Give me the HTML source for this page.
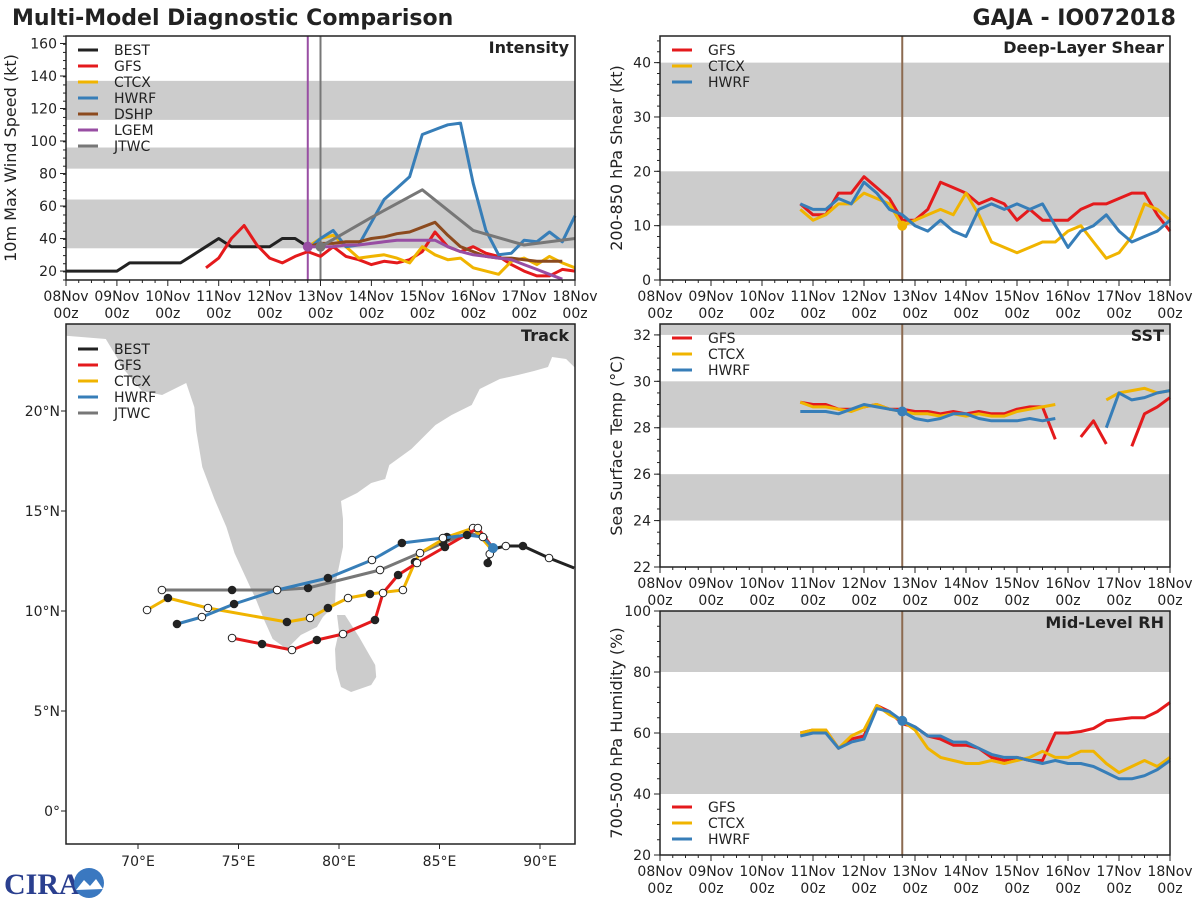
<!DOCTYPE html>
<html><head><meta charset="utf-8"><style>
body{margin:0;background:#fff;}
svg{display:block;font-family:"DejaVu Sans","Liberation Sans",sans-serif;}
</style></head><body>
<svg id="c" width="1200" height="900" xmlns="http://www.w3.org/2000/svg">
<text x="12" y="25" font-size="22" font-weight="bold" fill="#222">Multi-Model Diagnostic Comparison</text>
<text x="1176" y="25" font-size="22" font-weight="bold" fill="#222" text-anchor="end">GAJA - IO072018</text>
<g>
<text x="4" y="894" font-size="30" font-weight="bold" fill="#2a3f8f" font-family="Liberation Serif,serif">CIRA</text>
<circle cx="89" cy="883" r="15" fill="#3a78c0"/>
<path d="M76 890 L84 880 L90 886 L96 879 L103 889 Z" fill="#fff"/>
</g>
</svg>
<script>
// Intensity data (hours since 08Nov 00z)
const bestH=[0,6,12,18,24,30,36,42,48,54,60,66,72,78,84,90,96,102,108,114];
const bestV=[20,20,20,20,20,25,25,25,25,25,30,35,40,35,35,35,35,40,40,35];
const fH=[66,72,78,84,90,96,102,108,114,120,126,132,138,144,150,156,162,168,174,180,186,192,198,204,210,216,222,228,234,240];
const gfsV=[22,28,40,48,36,28,25,29,32,29,35,29,27,24,26,25,27,32,44,35,32,35,31,29,24,20,17,17,21,20];
const mH=[114,120,126,132,138,144,150,156,162,168,174,180,186,192,198,204,210,216,222,228,234,240];
const ctcxV=[35,40,42,35,28,29,30,28,25,35,30,27,28,22,20,18,26,28,24,29,25,22];
const hwrfV=[33,40,45,35,36,50,64,71,78,104,107,110,111,74,45,30,31,39,38,44,38,54];
const dshpH=[114,120,126,132,138,144,150,156,162,168,174,180,186,192,198,204,210,216,222,228,234];
const dshpV=[35,37,37,38,38,40,41,43,44,47,50,42,35,32,29,28,28,27,26,26,26];
const lgemV=[35,35,35,36,36,37,38,39,39,39,39,35,32,30,29,28,27,24,21,18,15];
const jtwcH=[120,144,168,192,216,240];
const jtwcV=[35,53,70,45,36,40];
// Shear
const shGfs=[14,12,12,16,16,19,17,15,11,11,13,18,17,16,14,15,14,11,13,11,11,11,13,14,14,15,16,16,12,9];
const shCtcx=[13,11,12,14,14,16,15,14,10,11,12,13,12,16,12,7,6,5,6,7,7,9,10,7,4,5,8,14,13,11];
const shHwrf=[14,13,13,15,14,18,16,13,12,10,9,11,9,8,13,14,13,14,13,14,10,6,9,10,12,9,7,8,9,11];
// SST
const sstGfs=[29.1,29.0,29.0,28.8,28.8,28.9,29.0,28.8,28.8,28.7,28.7,28.6,28.7,28.6,28.7,28.6,28.6,28.8,28.9,28.9,27.5,null,27.6,28.3,27.3,null,27.2,28.6,28.9,29.3];
const sstCtcx=[29.1,28.9,28.9,28.8,28.7,28.9,29.0,28.8,28.7,28.6,28.6,28.5,28.6,28.5,28.6,28.5,28.5,28.7,28.8,28.9,29.0,null,null,null,29.2,29.5,29.6,29.7,29.5,29.6];
const sstHwrf=[28.7,28.7,28.7,28.6,28.8,29.0,28.9,28.8,28.7,28.4,28.3,28.4,28.6,28.6,28.4,28.3,28.3,28.3,28.4,28.3,28.4,null,null,null,28.0,29.5,29.2,29.3,29.5,29.6];
// RH
const rhGfs=[60,61,61,55,58,59,69,67,63,62,59,58,56,56,55,52,51,52,51,51,60,60,60.5,61.5,64,64.5,65,65,67,70];
const rhCtcx=[60,61,61,55,59,61,69,66,64,61,55,52,51,50,50,51,50,51,52,54,52,52,54,54,50,47,49,51,49,52];
const rhHwrf=[59,60,60,55,57,58,68,67,64,62,59,59,57,57,55,53,52,52,51,50,51,50,50,49,47,45,45,46,48,51];
// Tracks (lon, lat)
const bestLon=[91.7,90.45,89.15,88.3,87.65,87.5,87.4];
const bestLat=[12.15,12.65,13.25,13.25,13.1,12.85,12.4];
const gfsLon=[87.66,86.91,85.27,83.88,82.94,82.19,81.79,80.2,78.9,77.66,76.17,74.68];
const gfsLat=[13.15,14.15,13.2,12.4,11.8,10.9,9.55,8.85,8.55,8.05,8.35,8.65];
const ctcxLon=[87.61,86.67,85.37,84.03,83.78,83.18,81.54,80.45,79.45,78.56,77.41,73.48,71.49,70.45];
const ctcxLat=[13.05,14.15,13.7,12.9,12.45,11.05,10.85,10.65,10.15,9.65,9.45,10.15,10.65,10.05];
const hwrfLon=[87.66,87.16,86.37,85.17,83.13,81.64,79.45,76.92,74.78,73.18,71.94];
const hwrfLat=[13.15,13.7,13.8,13.65,13.4,12.55,11.65,11.05,10.35,9.7,9.35];
const jtwcLon=[87.41,86.42,85.17,82.04,78.46,76.92,74.68,71.19];
const jtwcLat=[13.65,13.9,13.4,12.05,11.15,11.05,11.05,11.05];

const C={best:'#222',gfs:'#e41a1c',ctcx:'#f0b400',hwrf:'#377eb8',dshp:'#8c4a1e',lgem:'#984ea3',jtwc:'#777'};
const svg=document.getElementById('c');
const NS='http://www.w3.org/2000/svg';
function mk(t,a,p){const e=document.createElementNS(NS,t);for(const k in a)e.setAttribute(k,a[k]);(p||svg).appendChild(e);return e;}
const days=['08Nov','09Nov','10Nov','11Nov','12Nov','13Nov','14Nov','15Nov','16Nov','17Nov','18Nov'];

function panel(o){
  const g=mk('g',{});
  
  
  const X=h=>o.x0+h/240*(o.x1-o.x0);
  const Y=v=>o.y1-(v-o.vmin)/(o.vmax-o.vmin)*(o.y1-o.y0);
  for(const b of o.bands){const ya=Math.max(Y(b[1]),o.y0),yb=Y(b[0]);
    const r=mk('rect',{x:o.x0,y:ya,width:o.x1-o.x0,height:yb-ya,fill:'#cccccc'},g);
    }
  for(const t of o.yt){const y=Y(t);mk('line',{x1:o.x0-6,x2:o.x0,y1:y,y2:y,stroke:'#222'},g);
    const tx=mk('text',{x:o.x0-9,y:y+5,'font-size':14,'text-anchor':'end',fill:'#222'},g);tx.textContent=t;
    }
  for(let v=o.vmin;v<=o.vmax;v+=o.ym){const y=Y(v);if(y>=o.y0)mk('line',{x1:o.x0-3,x2:o.x0,y1:y,y2:y,stroke:'#222'},g);}
  for(let h=0;h<=240;h+=6){const x=X(h);const big=h%24==0;mk('line',{x1:x,x2:x,y1:o.y1,y2:o.y1+(big?6:3),stroke:'#222'},g);
    if(big){const t=mk('text',{x:x,y:o.y1+21,'font-size':14,'text-anchor':'middle',fill:'#222'},g);t.textContent=days[h/24];
      
      const t2=mk('text',{x:x,y:o.y1+38,'font-size':14,'text-anchor':'middle',fill:'#222'},g);t2.textContent='00z';
      }}
  const yl=mk('text',{x:0,y:0,'font-size':16,'text-anchor':'middle',fill:'#222',transform:`translate(${o.ylx},${(o.y0+o.y1)/2}) rotate(-90)`},g);
  yl.textContent=o.ylab;
  for(const vl of o.vlines){const l=mk('line',{x1:X(vl[0]),x2:X(vl[0]),y1:o.y0,y2:o.y1,stroke:vl[1],'stroke-width':2},g);
    }
  for(const s of o.series){let d='',pen=false;
    for(let i=0;i<s.h.length;i++){const v=s.v[i];if(v==null){pen=false;continue;}
      d+=(pen?'L':'M')+X(s.h[i]).toFixed(1)+' '+Y(v).toFixed(1);pen=true;}
    const p=mk('path',{d:d,fill:'none',stroke:s.c,'stroke-width':3,'stroke-linejoin':'round'},g);
    
    if(s.dot!=null){const c=mk('circle',{cx:X(s.h[s.dot]),cy:Y(s.v[s.dot]),r:5,fill:s.c},g);
      }}
  mk('rect',{x:o.x0,y:o.y0,width:o.x1-o.x0,height:o.y1-o.y0,fill:'none',stroke:'#222','stroke-width':1.5},g);
  const ti=mk('text',{x:o.x1-6,y:o.y0+17,'font-size':16,'font-weight':'bold','text-anchor':'end',fill:'#222'},g);
  ti.textContent=o.title;
  legend(g,o.x0+12,o.y0+14,o.leg);
}
function legend(g,x,y,items){
  items.forEach((it,i)=>{const yy=y+i*16;
    const l=mk('line',{x1:x,x2:x+20,y1:yy,y2:yy,stroke:it[1],'stroke-width':3},g);
    
    const t=mk('text',{x:x+36,y:yy+5,'font-size':14,fill:'#222'},g);t.textContent=it[0];
    });
}
const L3=[['GFS',C.gfs],['CTCX',C.ctcx],['HWRF',C.hwrf]];
panel({name:'intensity-panel',x0:66,x1:575,y0:36,y1:280,vmin:14.5,vmax:164.6,yt:[20,40,60,80,100,120,140,160],ym:5,
  bands:[[34,64],[83,96],[113,137]],ylx:16,ylab:'10m Max Wind Speed (kt)',title:'Intensity',
  vlines:[[114,C.lgem],[120,'#777']],
  series:[{n:'BEST',h:bestH,v:bestV,c:C.best},{n:'GFS',h:fH,v:gfsV,c:C.gfs},{n:'CTCX',h:mH,v:ctcxV,c:C.ctcx},
    {n:'HWRF',h:mH,v:hwrfV,c:C.hwrf},{n:'DSHP',h:dshpH,v:dshpV,c:C.dshp},{n:'LGEM',h:dshpH,v:lgemV,c:C.lgem,dot:0},{n:'JTWC',h:jtwcH,v:jtwcV,c:C.jtwc,dot:0}],
  leg:[['BEST',C.best],['GFS',C.gfs],['CTCX',C.ctcx],['HWRF',C.hwrf],['DSHP',C.dshp],['LGEM',C.lgem],['JTWC',C.jtwc]]});
panel({name:'shear-panel',x0:660,x1:1170,y0:36,y1:280,vmin:0,vmax:44.9,yt:[0,10,20,30,40],ym:2,
  bands:[[10,20],[30,40]],ylx:622,ylab:'200-850 hPa Shear (kt)',title:'Deep-Layer Shear',vlines:[[114,'#8c6a50']],
  series:[{n:'GFS',h:fH,v:shGfs,c:C.gfs},{n:'CTCX',h:fH,v:shCtcx,c:C.ctcx,dot:8},{n:'HWRF',h:fH,v:shHwrf,c:C.hwrf}],leg:L3});
panel({name:'sst-panel',x0:660,x1:1170,y0:324,y1:567,vmin:22,vmax:32.47,yt:[22,24,26,28,30,32],ym:0.5,
  bands:[[24,26],[28,30],[32,34]],ylx:622,ylab:'Sea Surface Temp (°C)',title:'SST',vlines:[[114,'#8c6a50']],
  series:[{n:'GFS',h:fH,v:sstGfs,c:C.gfs},{n:'CTCX',h:fH,v:sstCtcx,c:C.ctcx},{n:'HWRF',h:fH,v:sstHwrf,c:C.hwrf,dot:8}],leg:L3});
panel({name:'rh-panel',x0:660,x1:1170,y0:611,y1:855,vmin:20,vmax:100,yt:[20,40,60,80,100],ym:5,
  bands:[[40,60],[80,100]],ylx:622,ylab:'700-500 hPa Humidity (%)',title:'Mid-Level RH',vlines:[[114,'#8c6a50']],
  series:[{n:'GFS',h:fH,v:rhGfs,c:C.gfs},{n:'CTCX',h:fH,v:rhCtcx,c:C.ctcx},{n:'HWRF',h:fH,v:rhHwrf,c:C.hwrf,dot:8}],leg:[]});
(function(){const g=mk('g',{});legend(g,672,807,L3);})();

// Track panel
(function(){
  const x0=66,x1=575,y0=324,y1=844;
  const PX=lo=>138+(lo-70)*20.1, PY=la=>611-(la-10)*20;
  const g=mk('g',{});
  const cp=mk('clipPath',{id:'tc'},g);mk('rect',{x:x0,y:y0,width:x1-x0,height:y1-y0},cp);
  const m=mk('g',{'clip-path':'url(#tc)'},g);
  const india=[[66,24.5],[66,23.8],[68.4,23.6],[69,22.6],[69.2,22.2],[70.2,21],[71.2,20.8],[72.4,21.4],[72.8,20.2],[72.9,19],[73.2,17.2],[73.8,15.6],[74.4,14.2],[74.8,12.9],[75.4,11.6],[75.9,10.5],[76.3,9.5],[76.7,8.6],[77.4,8.1],[78.1,8.8],[78.9,9.2],[79.2,9.7],[79.8,10.3],[79.85,11.5],[80.2,13.2],[80.2,14.6],[80.1,15.5],[80.9,15.9],[81.6,16.4],[82.3,16.6],[82.5,17.3],[83.6,18.1],[84.8,19.3],[85.6,19.8],[86.6,20.3],[87,21.1],[88,21.6],[88.9,21.8],[89.7,22],[90.4,22.2],[90.6,22.7],[91.3,22.6],[91.8,22.1],[92,21.5],[92,24.5]];
  const sri=[[79.9,9.8],[80.3,9.8],[81,8.7],[81.4,8],[81.8,7.3],[81.85,6.7],[81.6,6.3],[80.6,5.95],[80.1,6.2],[79.85,7.1],[79.8,8.1],[80,9]];
  for(const [poly,nm] of [[india,'india-land'],[sri,'sri-lanka-land']]){
    const p=mk('path',{d:'M'+poly.map(q=>PX(q[0]).toFixed(1)+' '+PY(q[1]).toFixed(1)).join('L')+'Z',fill:'#cccccc'},m);
    }
  const tr=[['BEST',bestLon,bestLat,C.best],['JTWC',jtwcLon,jtwcLat,C.jtwc],['CTCX',ctcxLon,ctcxLat,C.ctcx],['GFS',gfsLon,gfsLat,C.gfs],['HWRF',hwrfLon,hwrfLat,C.hwrf]];
  for(const [n,lo,la,c] of tr){
    const p=mk('path',{d:'M'+lo.map((v,i)=>PX(v).toFixed(1)+' '+PY(la[i]).toFixed(1)).join('L'),fill:'none',stroke:c,'stroke-width':3,'stroke-linejoin':'round'},m);
    
    for(let i=1;i<lo.length;i++){const open=i%2==1;
      const ci=mk('circle',{cx:PX(lo[i]),cy:PY(la[i]),r:3.8,fill:open?'#fff':'#222',stroke:'#222','stroke-width':1},m);
      }
  }
  const ic=mk('circle',{cx:PX(hwrfLon[0]),cy:PY(hwrfLat[0]),r:5,fill:C.hwrf},m);
  
  mk('rect',{x:x0,y:y0,width:x1-x0,height:y1-y0,fill:'none',stroke:'#222','stroke-width':1.5},g);
  [0,5,10,15,20].forEach(la=>{const y=PY(la);mk('line',{x1:x0-5,x2:x0,y1:y,y2:y,stroke:'#222'},g);
    const t=mk('text',{x:x0-6,y:y+5,'font-size':14,'text-anchor':'end',fill:'#222'},g);t.textContent=la==0?'0°':la+'°N';
    });
  [70,75,80,85,90].forEach(lo=>{const x=PX(lo);mk('line',{x1:x,x2:x,y1:y1,y2:y1+5,stroke:'#222'},g);
    const t=mk('text',{x:x,y:y1+22,'font-size':14,'text-anchor':'middle',fill:'#222'},g);t.textContent=lo+'°E';
    });
  const ti=mk('text',{x:x1-6,y:y0+17,'font-size':16,'font-weight':'bold','text-anchor':'end',fill:'#222'},g);ti.textContent='Track';
  
  legend(g,78,349,[['BEST',C.best],['GFS',C.gfs],['CTCX',C.ctcx],['HWRF',C.hwrf],['JTWC',C.jtwc]]);
})();
</script>
</body></html>
